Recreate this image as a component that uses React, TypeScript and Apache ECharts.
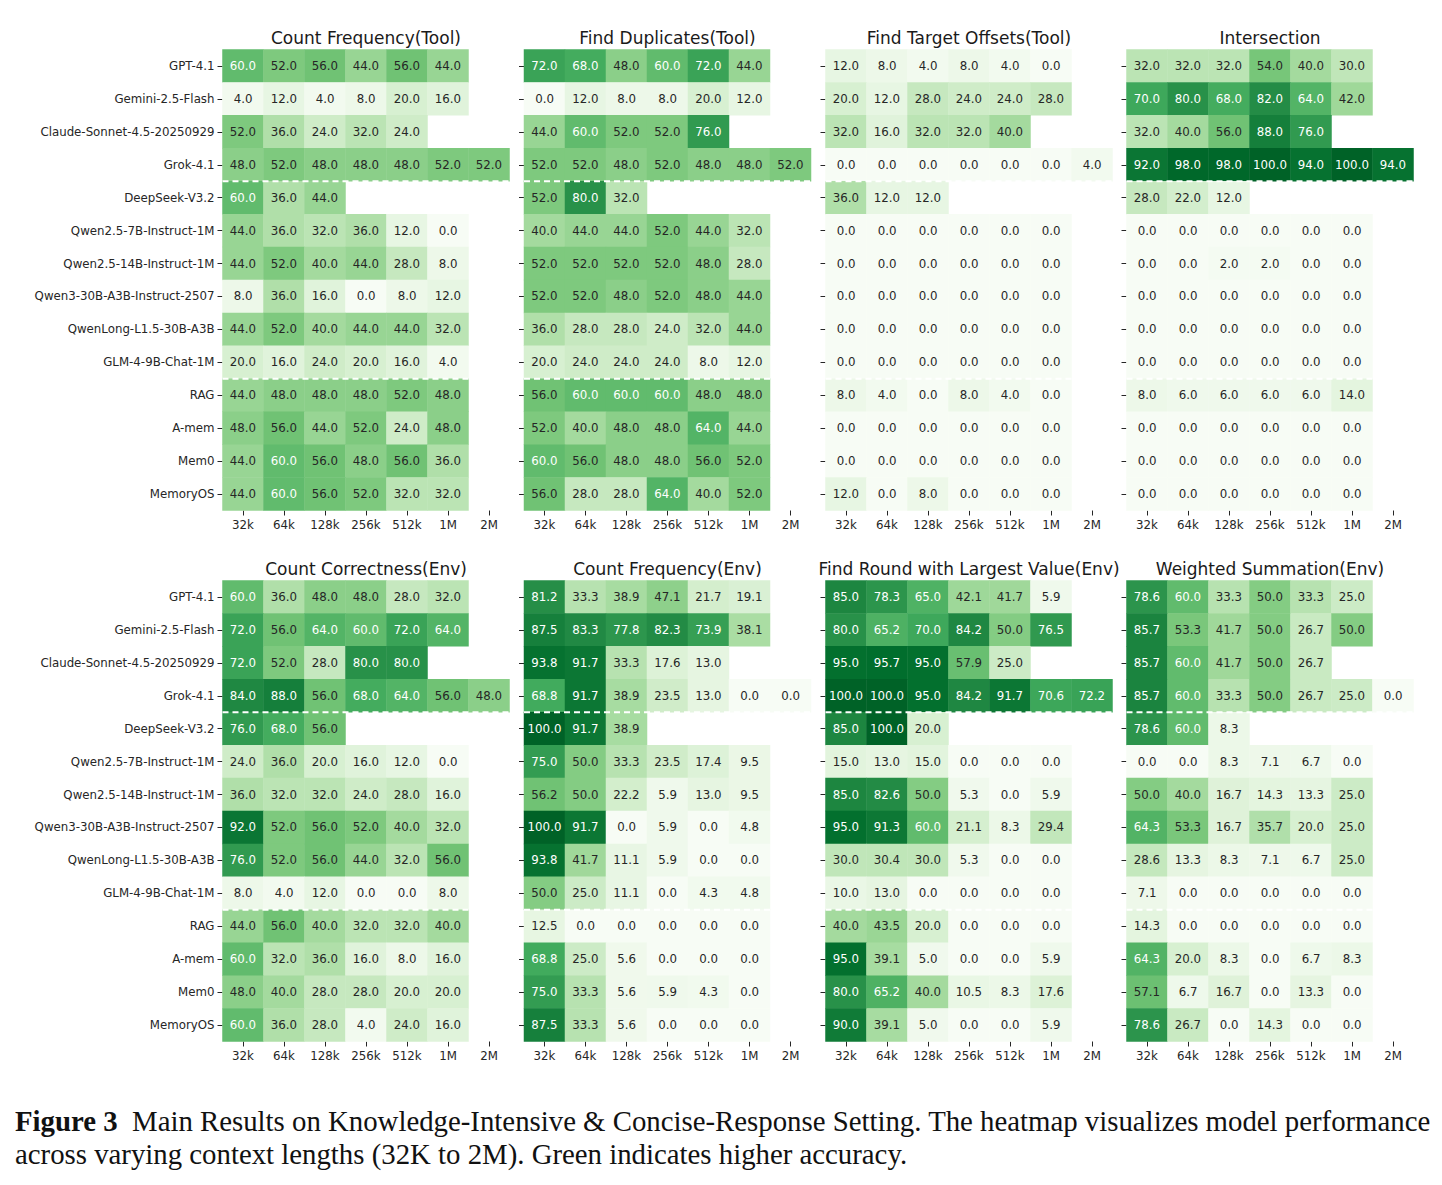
import React, { useEffect, useRef } from 'react';
import * as echarts from 'echarts';

const models = [
  'GPT-4.1',
  'Gemini-2.5-Flash',
  'Claude-Sonnet-4.5-20250929',
  'Grok-4.1',
  'DeepSeek-V3.2',
  'Qwen2.5-7B-Instruct-1M',
  'Qwen2.5-14B-Instruct-1M',
  'Qwen3-30B-A3B-Instruct-2507',
  'QwenLong-L1.5-30B-A3B',
  'GLM-4-9B-Chat-1M',
  'RAG',
  'A-mem',
  'Mem0',
  'MemoryOS',
];

const contexts = ['32k', '64k', '128k', '256k', '512k', '1M', '2M'];

const panelTitles = [
  'Count Frequency(Tool)',
  'Find Duplicates(Tool)',
  'Find Target Offsets(Tool)',
  'Intersection',
  'Count Correctness(Env)',
  'Count Frequency(Env)',
  'Find Round with Largest Value(Env)',
  'Weighted Summation(Env)',
];

const countFrequencyTool = [
  [60, 52, 56, 44, 56, 44],
  [4, 12, 4, 8, 20, 16],
  [52, 36, 24, 32, 24],
  [48, 52, 48, 48, 48, 52, 52],
  [60, 36, 44],
  [44, 36, 32, 36, 12, 0],
  [44, 52, 40, 44, 28, 8],
  [8, 36, 16, 0, 8, 12],
  [44, 52, 40, 44, 44, 32],
  [20, 16, 24, 20, 16, 4],
  [44, 48, 48, 48, 52, 48],
  [48, 56, 44, 52, 24, 48],
  [44, 60, 56, 48, 56, 36],
  [44, 60, 56, 52, 32, 32],
];

const findDuplicatesTool = [
  [72, 68, 48, 60, 72, 44],
  [0, 12, 8, 8, 20, 12],
  [44, 60, 52, 52, 76],
  [52, 52, 48, 52, 48, 48, 52],
  [52, 80, 32],
  [40, 44, 44, 52, 44, 32],
  [52, 52, 52, 52, 48, 28],
  [52, 52, 48, 52, 48, 44],
  [36, 28, 28, 24, 32, 44],
  [20, 24, 24, 24, 8, 12],
  [56, 60, 60, 60, 48, 48],
  [52, 40, 48, 48, 64, 44],
  [60, 56, 48, 48, 56, 52],
  [56, 28, 28, 64, 40, 52],
];

const findTargetOffsetsTool = [
  [12, 8, 4, 8, 4, 0],
  [20, 12, 28, 24, 24, 28],
  [32, 16, 32, 32, 40],
  [0, 0, 0, 0, 0, 0, 4],
  [36, 12, 12],
  [0, 0, 0, 0, 0, 0],
  [0, 0, 0, 0, 0, 0],
  [0, 0, 0, 0, 0, 0],
  [0, 0, 0, 0, 0, 0],
  [0, 0, 0, 0, 0, 0],
  [8, 4, 0, 8, 4, 0],
  [0, 0, 0, 0, 0, 0],
  [0, 0, 0, 0, 0, 0],
  [12, 0, 8, 0, 0, 0],
];

const intersection = [
  [32, 32, 32, 54, 40, 30],
  [70, 80, 68, 82, 64, 42],
  [32, 40, 56, 88, 76],
  [92, 98, 98, 100, 94, 100, 94],
  [28, 22, 12],
  [0, 0, 0, 0, 0, 0],
  [0, 0, 2, 2, 0, 0],
  [0, 0, 0, 0, 0, 0],
  [0, 0, 0, 0, 0, 0],
  [0, 0, 0, 0, 0, 0],
  [8, 6, 6, 6, 6, 14],
  [0, 0, 0, 0, 0, 0],
  [0, 0, 0, 0, 0, 0],
  [0, 0, 0, 0, 0, 0],
];

const countCorrectnessEnv = [
  [60, 36, 48, 48, 28, 32],
  [72, 56, 64, 60, 72, 64],
  [72, 52, 28, 80, 80],
  [84, 88, 56, 68, 64, 56, 48],
  [76, 68, 56],
  [24, 36, 20, 16, 12, 0],
  [36, 32, 32, 24, 28, 16],
  [92, 52, 56, 52, 40, 32],
  [76, 52, 56, 44, 32, 56],
  [8, 4, 12, 0, 0, 8],
  [44, 56, 40, 32, 32, 40],
  [60, 32, 36, 16, 8, 16],
  [48, 40, 28, 28, 20, 20],
  [60, 36, 28, 4, 24, 16],
];

const countFrequencyEnv = [
  [81.2, 33.3, 38.9, 47.1, 21.7, 19.1],
  [87.5, 83.3, 77.8, 82.3, 73.9, 38.1],
  [93.8, 91.7, 33.3, 17.6, 13.0],
  [68.8, 91.7, 38.9, 23.5, 13.0, 0.0, 0.0],
  [100.0, 91.7, 38.9],
  [75.0, 50.0, 33.3, 23.5, 17.4, 9.5],
  [56.2, 50.0, 22.2, 5.9, 13.0, 9.5],
  [100.0, 91.7, 0.0, 5.9, 0.0, 4.8],
  [93.8, 41.7, 11.1, 5.9, 0.0, 0.0],
  [50.0, 25.0, 11.1, 0.0, 4.3, 4.8],
  [12.5, 0.0, 0.0, 0.0, 0.0, 0.0],
  [68.8, 25.0, 5.6, 0.0, 0.0, 0.0],
  [75.0, 33.3, 5.6, 5.9, 4.3, 0.0],
  [87.5, 33.3, 5.6, 0.0, 0.0, 0.0],
];

const findRoundLargestEnv = [
  [85.0, 78.3, 65.0, 42.1, 41.7, 5.9],
  [80.0, 65.2, 70.0, 84.2, 50.0, 76.5],
  [95.0, 95.7, 95.0, 57.9, 25.0],
  [100.0, 100.0, 95.0, 84.2, 91.7, 70.6, 72.2],
  [85.0, 100.0, 20.0],
  [15.0, 13.0, 15.0, 0.0, 0.0, 0.0],
  [85.0, 82.6, 50.0, 5.3, 0.0, 5.9],
  [95.0, 91.3, 60.0, 21.1, 8.3, 29.4],
  [30.0, 30.4, 30.0, 5.3, 0.0, 0.0],
  [10.0, 13.0, 0.0, 0.0, 0.0, 0.0],
  [40.0, 43.5, 20.0, 0.0, 0.0, 0.0],
  [95.0, 39.1, 5.0, 0.0, 0.0, 5.9],
  [80.0, 65.2, 40.0, 10.5, 8.3, 17.6],
  [90.0, 39.1, 5.0, 0.0, 0.0, 5.9],
];

const weightedSummationEnv = [
  [78.6, 60.0, 33.3, 50.0, 33.3, 25.0],
  [85.7, 53.3, 41.7, 50.0, 26.7, 50.0],
  [85.7, 60.0, 41.7, 50.0, 26.7],
  [85.7, 60.0, 33.3, 50.0, 26.7, 25.0, 0.0],
  [78.6, 60.0, 8.3],
  [0.0, 0.0, 8.3, 7.1, 6.7, 0.0],
  [50.0, 40.0, 16.7, 14.3, 13.3, 25.0],
  [64.3, 53.3, 16.7, 35.7, 20.0, 25.0],
  [28.6, 13.3, 8.3, 7.1, 6.7, 25.0],
  [7.1, 0.0, 0.0, 0.0, 0.0, 0.0],
  [14.3, 0.0, 0.0, 0.0, 0.0, 0.0],
  [64.3, 20.0, 8.3, 0.0, 6.7, 8.3],
  [57.1, 6.7, 16.7, 0.0, 13.3, 0.0],
  [78.6, 26.7, 0.0, 14.3, 0.0, 0.0],
];

const panels = [
  countFrequencyTool,
  findDuplicatesTool,
  findTargetOffsetsTool,
  intersection,
  countCorrectnessEnv,
  countFrequencyEnv,
  findRoundLargestEnv,
  weightedSummationEnv,
];

// rows after which a dashed separator is drawn
const separatorRows = [3, 9];

const GREENS = ['#f7fcf5', '#e5f5e0', '#c7e9c0', '#a1d99b', '#74c476', '#41ab5d', '#238b45', '#006d2c', '#00441b'];

const captionBold = 'Figure 3';
const captionLine1 = '  Main Results on Knowledge-Intensive & Concise-Response Setting. The heatmap visualizes model performance';
const captionLine2 = 'across varying context lengths (32K to 2M). Green indicates higher accuracy.';

const GRID_LEFTS = [222.5, 524, 825.5, 1126.5];
const GRID_TOPS = [49.5, 580.5];
const GRID_W = 287;
const GRID_H = 461;
const DARK = '#262626';
const FONT = 'DejaVu Sans';
const CAPTION_FONT = '"Liberation Serif"';

export default function App() {
  const ref = useRef<HTMLDivElement>(null);

  useEffect(() => {
    document.body.style.margin = '0';
    const chart = echarts.init(ref.current as HTMLDivElement, null, { renderer: 'svg' });

    const grids = panels.map((_, i) => ({
      left: GRID_LEFTS[i % 4],
      top: GRID_TOPS[Math.floor(i / 4)],
      width: GRID_W,
      height: GRID_H,
    }));

    const titles = panelTitles.map((t, i) => ({
      text: t,
      left: GRID_LEFTS[i % 4] + GRID_W / 2,
      top: GRID_TOPS[Math.floor(i / 4)] - 20,
      textAlign: 'center',
      padding: 0,
      textStyle: { fontSize: 17, fontWeight: 'normal', color: '#1a1a1a', fontFamily: FONT },
    }));

    const xAxes = panels.map((_, i) => ({
      type: 'category',
      gridIndex: i,
      data: contexts,
      position: 'bottom',
      axisLine: { show: false },
      axisTick: { show: true, alignWithLabel: true, length: 5, lineStyle: { color: DARK, width: 1 } },
      axisLabel: { fontSize: 11.8, color: DARK, margin: 8, fontFamily: FONT },
      splitLine: { show: false },
      splitArea: { show: false },
    }));

    const yAxes = panels.map((_, i) => ({
      type: 'category',
      gridIndex: i,
      data: models,
      inverse: true,
      axisLine: { show: false },
      axisTick: { show: true, alignWithLabel: true, length: 5, lineStyle: { color: DARK, width: 1 } },
      axisLabel: { show: i % 4 === 0, fontSize: 11.8, color: DARK, margin: 8, fontFamily: FONT },
      splitLine: { show: false },
      splitArea: { show: false },
    }));

    const heatmaps = panels.map((panel, i) => {
      const data: any[] = [];
      panel.forEach((row, r) => {
        row.forEach((v, c) => {
          data.push({
            value: [c, r, v],
            label: { color: v >= 58.5 ? '#ffffff' : DARK },
          });
        });
      });
      return {
        type: 'heatmap',
        xAxisIndex: i,
        yAxisIndex: i,
        data,
        label: {
          show: true,
          fontSize: 11.8,
          fontFamily: FONT,
          formatter: (p: any) => Number(p.value[2]).toFixed(1),
        },
        itemStyle: { borderWidth: 0 },
        emphasis: { disabled: true },
        silent: true,
      };
    });

    const separators = panels.map((panel, i) => {
      const sepData = separatorRows.map((r) => [0, r, Math.max(panel[r].length, panel[r + 1].length)]);
      return {
        type: 'custom',
        coordinateSystem: 'cartesian2d',
        xAxisIndex: i,
        yAxisIndex: i,
        data: sepData,
        encode: { x: 0, y: 1 },
        silent: true,
        z: 10,
        renderItem: (params: any, api: any) => {
          const d = sepData[params.dataIndex];
          const r = d[1];
          const n = d[2];
          const p0 = api.coord([0, r]);
          const p1 = api.coord([0, r + 1]);
          const size = api.size([1, 1]);
          const y = (p0[1] + p1[1]) / 2;
          const x0 = p0[0] - size[0] / 2;
          const x1 = x0 + n * size[0];
          return {
            type: 'line',
            shape: { x1: x0, y1: y, x2: x1, y2: y },
            style: { stroke: '#ffffff', lineWidth: 2, lineDash: [6, 4] },
          };
        },
      };
    });

    const option: any = {
      animation: false,
      backgroundColor: '#ffffff',
      textStyle: { fontFamily: FONT },
      title: titles,
      grid: grids,
      xAxis: xAxes,
      yAxis: yAxes,
      visualMap: {
        type: 'continuous',
        show: false,
        min: 0,
        max: 110,
        dimension: 2,
        seriesIndex: panels.map((_, i) => i),
        inRange: { color: GREENS },
      },
      series: [...heatmaps, ...separators],
      graphic: [
        {
          type: 'text',
          x: 15,
          y: 1121,
          style: {
            text: '{b|' + captionBold + '}' + captionLine1,
            font: '28.8px ' + CAPTION_FONT,
            fill: '#111111',
            verticalAlign: 'middle',
            rich: {
              b: { font: 'bold 28.8px ' + CAPTION_FONT, fill: '#111111' },
            },
          },
        },
        {
          type: 'text',
          x: 15,
          y: 1154,
          style: {
            text: captionLine2,
            font: '28.8px ' + CAPTION_FONT,
            fill: '#111111',
            verticalAlign: 'middle',
          },
        },
      ],
    };

    chart.setOption(option);
    return () => chart.dispose();
  }, []);

  return <div ref={ref} style={{ width: 1442, height: 1185 }} />;
}
